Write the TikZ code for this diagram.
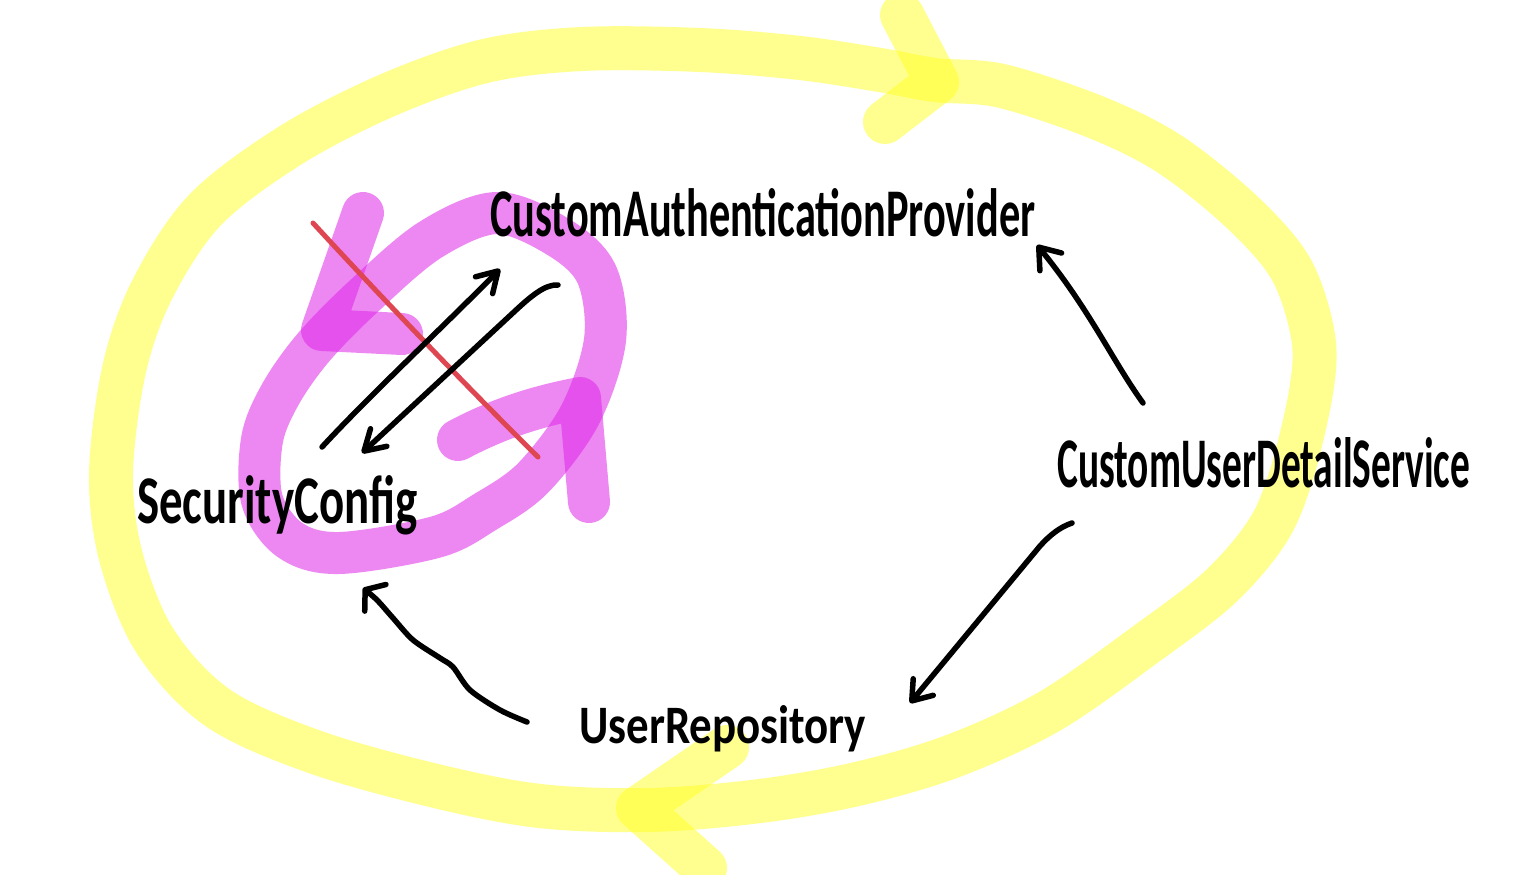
\documentclass[tikz,border=0pt]{standalone}
\usepackage{graphicx}
\usepackage{fontspec}
\setmainfont{Carlito}
\usetikzlibrary{arrows.meta}
\definecolor{hlyellow}{RGB}{255,255,34}
\definecolor{hlmagenta}{RGB}{224,37,232}
\definecolor{redpen}{RGB}{222,70,82}
\tikzset{
  ybrush/.style={draw=hlyellow, draw opacity=0.5, line width=44bp, line cap=round, line join=round},
  mbrush/.style={draw=hlmagenta, draw opacity=0.55, line width=42bp, line cap=round, line join=round},
  pen/.style={draw=black, line width=5.5bp, line cap=round, line join=round},
  handtext/.style={inner sep=0pt, anchor=base west, font=\bfseries},
}
\begin{document}
\begin{tikzpicture}[x=1bp,y=-1bp]
\useasboundingbox (0,0) rectangle (1513,874);
\fill[white] (0,0) rectangle (1513,874);

% yellow loop
\draw[ybrush] plot[smooth cycle, tension=0.55] coordinates {
 (935,80) (1002,86) (1098,118) (1171,155) (1243,213) (1291,269) (1313,336)
 (1311,392) (1291,476) (1267,532) (1219,588) (1146,644) (1050,711) (953,756)
 (857,784) (760,801) (650,810) (540,806) (436,786) (315,752) (218,708)
 (155,641) (121,557) (111,474) (124,370) (152,290) (205,210) (291,145)
 (388,95) (485,61) (582,49) (700,50) (800,58) (880,70)};
\draw[ybrush] (902,15) -- (937,82) -- (885,122);
\draw[ybrush] (727,747) -- (638,808) -- (705,868);

% magenta loop
\draw[mbrush] plot[smooth cycle, tension=0.55] coordinates {
 (497,213) (560,238) (597,275) (605,340) (580,415) (533,478) (485,512)
 (436,537) (339,553) (290,540) (262,500) (262,440) (280,395) (313,348)
 (363,297) (430,240)};
\draw[mbrush] (363,213) -- (322,330) -- (402,334);
\draw[mbrush] (458,440) .. controls (505,415) and (545,405) .. (580,398) -- (589,502);

% red strike
\coordinate (r1) at (313,223);
\coordinate (r2) at (538,457);
\draw[draw=redpen, line width=5bp, line cap=round] (r1) .. controls (370,285) and (460,380) .. (r2);

% text
\node[handtext] (cap) at (490,236) {\resizebox{545bp}{48bp}{CustomAuthenticationProvider}};
\node[handtext] (sc) at (137,523) {\resizebox{280bp}{48bp}{SecurityConfig}};
\node[handtext] (cuds) at (1057,487) {\resizebox{413bp}{50bp}{CustomUserDetailService}};
\node[handtext] (ur) at (579,743) {\resizebox{287bp}{38bp}{UserRepository}};

% connectors
\coordinate (a1) at (322,447);
\coordinate (a2) at (500,269);
\draw[pen, -{Straight Barb[length=20bp, width=24bp, round]}] (a1) .. controls (370,395) and (440,330) .. (a2);

\coordinate (b1) at (558,285);
\coordinate (b2) at (362,453);
\draw[pen, -{Straight Barb[length=20bp, width=24bp, round]}] (b1) .. controls (545,284) and (530,297) .. (515,311) -- (b2);

\coordinate (c1) at (1143,403);
\coordinate (c2) at (1037,245);
\draw[pen, -{Straight Barb[length=19bp, width=28bp, round]}] (c1) .. controls (1112,360) and (1090,310) .. (c2);

\coordinate (d1) at (1072,523);
\coordinate (d2) at (910,703);
\draw[pen, -{Straight Barb[length=18bp, width=26bp, round]}] (d1) .. controls (1060,527) and (1050,535) .. (1040,546) -- (d2);

\coordinate (e1) at (527,722);
\coordinate (e2) at (363,588);
\draw[pen, -{Straight Barb[length=13bp, width=34bp, round]}] plot[smooth, tension=0.5] coordinates {
 (e1) (500,710) (470,690) (453,667) (440,658) (413,640) (393,618) (377,600) (e2)};
\end{tikzpicture}
\end{document}
